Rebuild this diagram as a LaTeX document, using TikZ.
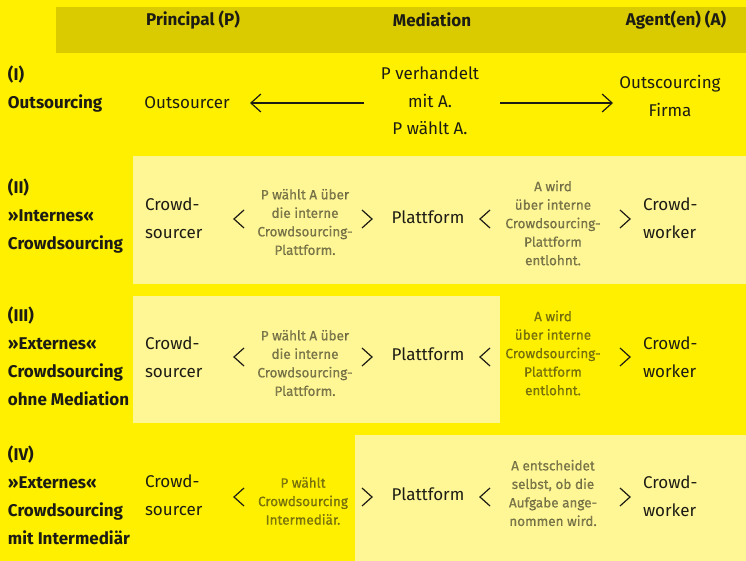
\documentclass[tikz,border=0pt]{standalone}
\usepackage{fontspec}
\setmainfont{Fira Sans}
\newfontfamily\notefont{Fira Sans}[FakeBold=0.6]
\usetikzlibrary{arrows.meta}
\definecolor{ybg}{RGB}{255,240,0}
\definecolor{yhead}{RGB}{217,203,0}
\definecolor{ylight}{RGB}{255,246,150}
\definecolor{ink}{RGB}{28,28,20}
\begin{document}
\begin{tikzpicture}[x=1pt,y=-1pt,
  every node/.style={inner sep=0pt, outer sep=0pt, text=ink},
  head/.style={font=\bfseries\fontsize{17}{20}\selectfont},
  rowlabel/.style={anchor=west, align=left, font=\bfseries\fontsize{17}{28}\selectfont},
  main/.style={align=center, font=\fontsize{17}{27.5}\selectfont},
  mainl/.style={anchor=west, align=left, font=\fontsize{17}{28}\selectfont},
  note/.style={align=center, text opacity=0.55, font=\notefont\fontsize{13.5}{18.5}\selectfont\addfontfeature{FakeBold=0.6}},
  arr/.style={line width=1.2pt, draw=ink, -{Straight Barb[length=10pt,width=18pt,line width=1.2pt]}},
  chev/.style={line width=1.2pt, draw=ink, line join=miter},
  pics/chevl/.style={code={\draw[chev] (5,-9) -- (-5,0) -- (5,9);}},
  pics/chevr/.style={code={\draw[chev] (-5,-9) -- (5,0) -- (-5,9);}},
]
% backgrounds
\fill[ybg] (0,0) rectangle (746,561);
\useasboundingbox (0,0) rectangle (746,561);
\fill[yhead] (56,7) rectangle (746,53);
\fill[ylight] (133,156) rectangle (746,284);
\fill[ylight] (133,296) rectangle (500,423);
\fill[ylight] (355,435) rectangle (746,561);

% header
\node[head] (hP) at (193,20) {Principal (P)};
\node[head] (hM) at (432,20) {Mediation};
\node[head] (hA) at (676,20) {Agent(en) (A)};

% row I
\node[rowlabel] (l1) at (8,89) {(I)\\Outsourcing};
\node[main] (out1) at (187,103) {Outsourcer};
\node[main] (med1) at (430,101) {P verhandelt\\mit A.\\P wählt A.};
\node[main] (firm1) at (670,96) {Outscourcing\\Firma};
\coordinate (a1s) at (364,103);
\coordinate (a1e) at (250,103);
\coordinate (a2s) at (500,103);
\coordinate (a2e) at (613,103);
\draw[arr] (a1s) -- (a1e);
\draw[arr] (a2s) -- (a2e);

% row II
\node[rowlabel] (l2) at (8,216) {(II)\\»Internes«\\Crowdsourcing};
\node[mainl] (p2) at (145,218) {Crowd-\\sourcer};
\pic at (239,219) {chevl};
\node[note] (n2a) at (305,222) {P wählt A über\\die interne\\Crowdsourcing-\\Plattform.};
\pic at (367,219) {chevr};
\node[main] (m2) at (428,217) {Plattform};
\pic at (485,219) {chevl};
\node[note] (n2b) at (553,223) {A wird\\über interne\\Crowdsourcing-\\Plattform\\entlohnt.};
\pic at (625,219) {chevr};
\node[mainl] (a2) at (643,218) {Crowd-\\worker};

% row III
\node[rowlabel] (l3) at (8,356) {(III)\\»Externes«\\Crowdsourcing\\ohne Mediation};
\node[mainl] (p3) at (145,357) {Crowd-\\sourcer};
\pic at (239,357) {chevl};
\node[note] (n3a) at (305,363) {P wählt A über\\die interne\\Crowdsourcing-\\Plattform.};
\pic at (367,357) {chevr};
\node[main] (m3) at (428,354) {Plattform};
\pic at (485,357) {chevl};
\node[note] (n3b) at (553,353) {A wird\\über interne\\Crowdsourcing-\\Plattform\\entlohnt.};
\pic at (625,357) {chevr};
\node[mainl] (a3) at (643,357) {Crowd-\\worker};

% row IV
\node[rowlabel] (l4) at (8,495) {(IV)\\»Externes«\\Crowdsourcing\\mit Intermediär};
\node[mainl] (p4) at (145,495) {Crowd-\\sourcer};
\pic at (239,497) {chevl};
\node[note] (n4a) at (303,501) {P wählt\\Crowdsourcing\\Intermediär.};
\pic at (367,497) {chevr};
\node[main] (m4) at (428,494) {Plattform};
\pic at (485,497) {chevl};
\node[note] (n4b) at (553,493) {A entscheidet\\selbst, ob die\\Aufgabe ange-\\nommen wird.};
\pic at (625,497) {chevr};
\node[mainl] (a4) at (643,496) {Crowd-\\worker};
\end{tikzpicture}
\end{document}
